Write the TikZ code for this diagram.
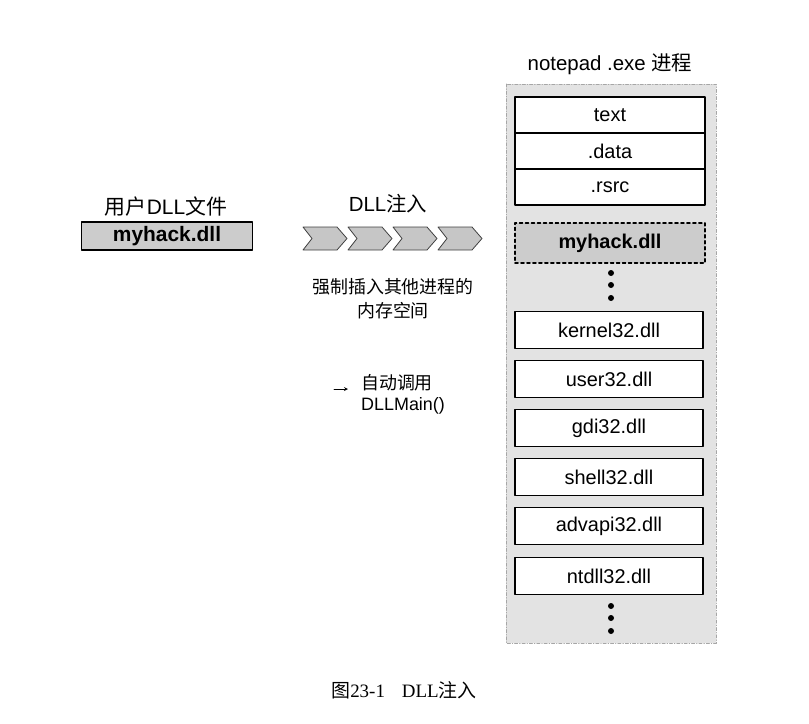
\documentclass[tikz,border=0pt]{standalone}
\usepackage{fontspec}
\setmainfont{Liberation Sans}
\newfontfamily\cjk{Noto Sans CJK SC}
\newfontfamily\capfont{Liberation Serif}
\begin{document}
\begin{tikzpicture}[x=1bp,y=-1bp,>=stealth,line join=round,line cap=round,
		seg/.style={draw,line width=1.6pt,fill=white,minimum width=190bp,minimum height=36bp,inner sep=0pt,font=\fontsize{20}{22}\selectfont},
		dllfile/.style={draw,line width=1.6pt,fill=gray!40,minimum width=171bp,minimum height=28bp,inner sep=0pt,font=\bfseries\fontsize{21}{22}\selectfont},
		lbl/.style={font=\fontsize{20.5}{24}\selectfont,inner sep=1pt},
		chev/.style={draw=black!75,fill=gray!45,line width=0.8pt},
		dot/.style={circle,fill,inner sep=0pt,minimum size=6bp}]
	\useasboundingbox (0,0) rectangle (809,724);
	% process box
	\node[lbl] (proc) at (610,64) {notepad .exe {\cjk 进程}};
	\draw[gray!70,fill=gray!22,dash dot,line width=1pt] (506,84) rectangle (716,643);
	\node[seg] (text) at (610,115) {text};
	\node[seg] (data) at (610,151) {.data};
	\node[seg] (rsrc) at (610,187) {.rsrc};
	\node[seg,dashed,fill=gray!40,minimum height=40bp,font=\bfseries\fontsize{20}{22}\selectfont] (inj) at (610,243) {myhack.dll};
	\foreach \y/\n in {273/a,285/b,298/c} \node[dot] (d\n) at (611,\y) {};
	\foreach \y/\t/\n in {330/kernel32/k,379/user32/u,428/gdi32/g,477/shell32/s,526/advapi32/v,576/ntdll32/n}
		\node[seg,minimum width=188bp,minimum height=37bp] (\n) at (609,\y) {\t .dll};
	\foreach \y/\n in {606/e,618/f,631/h} \node[dot] (d\n) at (611,\y) {};
	% user dll
	\node[lbl,font=\fontsize{21}{24}\selectfont] (ulbl) at (166,207) {{\cjk 用户}DLL{\cjk 文件}};
	\node[dllfile] (ufile) at (167,236) {myhack.dll};
	% injection
	\node[lbl] (ilbl) at (388,204) {DLL{\cjk 注入}};
	\foreach \i in {0,...,3}
		\draw[chev] ({303+45*\i},227) -- ({337+45*\i},227) -- ({347+45*\i},238.5) -- ({337+45*\i},250) -- ({303+45*\i},250) -- ({312+45*\i},238.5) -- cycle;
	\node[lbl,align=center,font=\cjk\fontsize{18}{24}\selectfont] (force) at (393,299) {强制插入其他进程的\\内存空间};
	\node[lbl,align=left,anchor=north west,font=\fontsize{18}{21}\selectfont] (call) at (360,373) {{\cjk 自动调用}\\DLLMain()};
	\coordinate (arr) at (334,389);
	\draw[->,line width=0.8pt] (arr) -- (call.west |- arr) [shorten >=12bp];
	% caption
	\node[font=\capfont\fontsize{19}{22}\selectfont] (cap) at (404,690) {{\cjk 图}23-1\hspace{0.9em}DLL{\cjk 注入}};
\end{tikzpicture}
\end{document}
